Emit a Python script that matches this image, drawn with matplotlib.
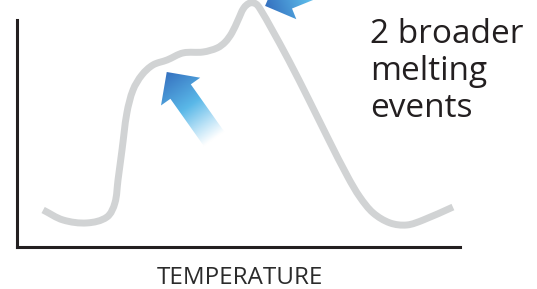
import numpy as np
import matplotlib
matplotlib.use("Agg")
import matplotlib.pyplot as plt
from matplotlib.patches import Polygon, PathPatch
from matplotlib.path import Path
from matplotlib.colors import LinearSegmentedColormap

# melting curve (arbitrary units: temperature 0-100, signal 0-100)
temperature = [5.9, 10.4, 15.8, 20.3, 22.1, 22.8, 23.7, 24.8, 26.2, 28.2, 30.7,
               33.9, 37.5, 42.0, 45.2, 47.0, 48.5, 49.9, 51.2, 52.6, 54.0, 55.3,
               57.1, 61.3, 65.9, 70.4, 74.7, 77.4, 80.4, 84.2, 88.0, 91.7, 98.4]
signal = [16.3, 11.9, 10.6, 13.2, 19.4, 29.5, 42.7, 59.0, 69.2, 75.8, 80.2,
          82.4, 85.5, 85.9, 87.7, 90.3, 94.3, 100.0, 105.3, 107.5, 107.0, 103.5,
          97.4, 82.4, 64.8, 47.1, 30.8, 22.0, 15.0, 10.6, 9.7, 11.9, 17.6]

# arrows pointing at the two melting events (data coords of the tip, angle of the tail)
arrow_tips = [(33.8, 77.1), (56.0, 106.2)]
arrow_angles = [54.7, -22.0]

label_lines = ["2 broader", "melting", "events"]
x_label = "TEMPERATURE"

W, H = 537, 289
fig = plt.figure(figsize=(W / 100, H / 100), dpi=100, facecolor="white")

ax = fig.add_axes([17 / W, 1 - 247 / H, (460 - 17) / W, (247 - 20) / H])
ax.set_xlim(0, 100)
ax.set_ylim(0, 100)


def smooth_path(xs, ys, sx=4.43, sy=2.27):
    # cubic bezier through the points (tangent length tied to each segment)
    P = np.column_stack([np.asarray(xs) * sx, np.asarray(ys) * sy])
    n = len(P)
    T = np.zeros_like(P)
    for i in range(n):
        a = P[max(i - 1, 0)]
        b = P[min(i + 1, n - 1)]
        v = b - a
        T[i] = v / np.hypot(*v)
    verts = [P[0]]
    codes = [Path.MOVETO]
    for i in range(n - 1):
        L = np.hypot(*(P[i + 1] - P[i])) / 3
        verts += [P[i] + T[i] * L, P[i + 1] - T[i + 1] * L, P[i + 1]]
        codes += [Path.CURVE4] * 3
    verts = np.array(verts) / [sx, sy]
    return Path(verts, codes)


curve = PathPatch(smooth_path(temperature, signal), facecolor="none",
                  edgecolor="#d1d3d4", lw=5.0, capstyle="butt",
                  joinstyle="round", clip_on=False, zorder=2)
ax.add_patch(curve)
ax.set_xticks([])
ax.set_yticks([])
for side in ["top", "right"]:
    ax.spines[side].set_visible(False)
for side in ["left", "bottom"]:
    ax.spines[side].set_linewidth(2.2)
    ax.spines[side].set_color("#231f20")
ax.patch.set_alpha(0)

# overlay in pixel coordinates for the gradient arrows
ov = fig.add_axes([0, 0, 1, 1], zorder=5)
ov.axis("off")
ov.patch.set_alpha(0)

cmap = LinearSegmentedColormap.from_list(
    "arrow", [(0, "#3570bf"), (0.5, "#5ab8e8"), (0.8, "#bfe4f7"), (1, "#ffffff")])


def gradient_arrow(tip, angle_deg, length=82, head_len=24, head_w=48, shaft_w=25):
    a = np.radians(angle_deg)
    d = np.array([np.cos(a), np.sin(a)])  # tip -> tail, y down
    n = np.array([-d[1], d[0]])
    tip = np.asarray(tip, float)
    base = tip + d * head_len
    tail = tip + d * length
    pts = [tip, base + n * head_w / 2, base + n * shaft_w / 2,
           tail + n * shaft_w / 2, tail - n * shaft_w / 2,
           base - n * shaft_w / 2, base - n * head_w / 2]
    poly = Polygon(pts, closed=True, facecolor="none", edgecolor="none")
    ov.add_patch(poly)
    pts = np.array(pts)
    x0, x1 = pts[:, 0].min() - 2, pts[:, 0].max() + 2
    y0, y1 = pts[:, 1].min() - 2, pts[:, 1].max() + 2
    X, Y = np.meshgrid(np.linspace(x0, x1, 300), np.linspace(y0, y1, 300))
    t = ((X - tip[0]) * d[0] + (Y - tip[1]) * d[1]) / length
    im = ov.imshow(t, cmap=cmap, vmin=0, vmax=1, extent=(x0, x1, y0, y1),
                   origin="lower", aspect="auto", interpolation="bilinear")
    im.set_clip_path(poly)


for (tx, ty), ang in zip(arrow_tips, arrow_angles):
    px, py = ax.transData.transform((tx, ty))
    gradient_arrow((px, H - py), ang)

ov.set_xlim(0, W)
ov.set_ylim(H, 0)

for i, line in enumerate(label_lines):
    fig.text(370 / W, 1 - (43 + 37 * i) / H, line, ha="left", va="baseline",
             fontsize=24, family="Open Sans", color="#231f20")

fig.text(240 / W, 1 - 284 / H, x_label, ha="center", va="baseline",
         fontsize=17.5, family="Open Sans", color="#2b2b2b")

fig.savefig("out.png", dpi=100, facecolor="white")
